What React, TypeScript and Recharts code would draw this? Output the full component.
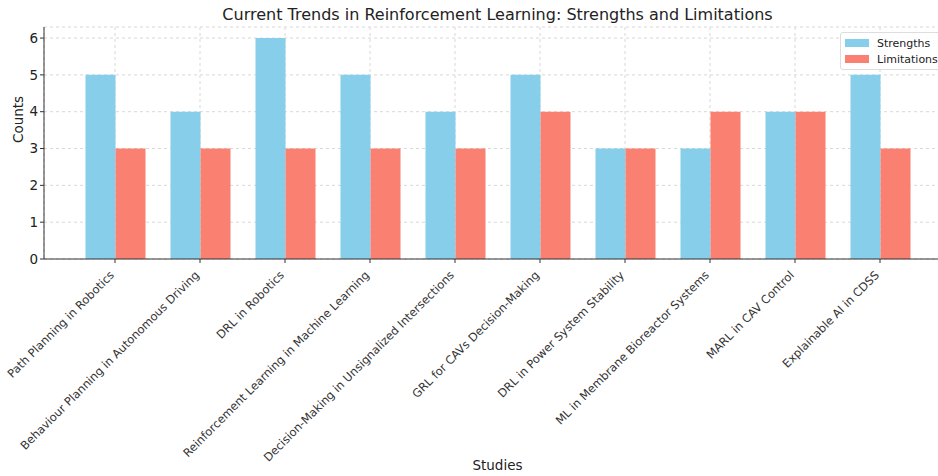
import { Bar, BarChart, CartesianGrid, XAxis, YAxis } from "recharts";

const studies = [
  "Path Planning in Robotics",
  "Behaviour Planning in Autonomous Driving",
  "DRL in Robotics",
  "Reinforcement Learning in Machine Learning",
  "Decision-Making in Unsignalized Intersections",
  "GRL for CAVs Decision-Making",
  "DRL in Power System Stability",
  "ML in Membrane Bioreactor Systems",
  "MARL in CAV Control",
  "Explainable AI in CDSS",
];
const strengths = [5, 4, 6, 5, 4, 5, 3, 3, 4, 5];
const limitations = [3, 3, 3, 3, 3, 4, 3, 4, 4, 3];
const yTicks = [0, 1, 2, 3, 4, 5, 6];

const data = studies.map((study, i) => ({
  study,
  strengths: strengths[i],
  limitations: limitations[i],
}));

const FONT = "'DejaVu Sans', sans-serif";
const BLUE = "#87CEEB";
const RED = "#FA8072";

function RotatedTick({ x, y, payload }: any) {
  return (
    <g transform={`translate(${x - 3},${y + 8}) rotate(-45)`}>
      <text x={0} y={0} dy="0.35em" textAnchor="end" fontSize={11.5} fill="#333" fontFamily={FONT}>
        {payload.value}
      </text>
    </g>
  );
}

function LegendBox() {
  const row = (color: string, label: string) => (
    <div style={{ display: "flex", alignItems: "center", height: 16 }}>
      <span style={{ width: 24, height: 8, background: color, marginRight: 8 }} />
      <span>{label}</span>
    </div>
  );
  return (
    <div
      style={{
        position: "absolute",
        left: 840,
        top: 32,
        width: 110,
        border: "1px solid #ddd",
        borderRadius: 3,
        background: "rgba(255,255,255,0.85)",
        padding: "2px 0 2px 4px",
        fontSize: 11,
        color: "#222",
      }}
    >
      {row(BLUE, "Strengths")}
      {row(RED, "Limitations")}
    </div>
  );
}

export default function App() {
  return (
    <div
      style={{
        position: "absolute",
        left: 0,
        top: 0,
        width: 938,
        height: 476,
        overflow: "hidden",
        background: "#fff",
        fontFamily: FONT,
      }}
    >
      <div
        style={{
          position: "absolute",
          top: 5,
          left: 0,
          width: 995,
          textAlign: "center",
          fontSize: 16,
          color: "#222",
        }}
      >
        Current Trends in Reinforcement Learning: Strengths and Limitations
      </div>
      <BarChart
        width={951}
        height={476}
        data={data}
        margin={{ top: 27, right: 0, bottom: 0, left: 0 }}
        barGap={0}
        barSize={30}
      >
        <CartesianGrid stroke="#d8d8d8" strokeDasharray="3 3" />
        <XAxis
          dataKey="study"
          interval={0}
          height={217}
          padding={{ left: 28.5, right: 28.5 }}
          tick={<RotatedTick />}
          tickSize={4}
          stroke="#333"
          label={{ value: "Studies", position: "insideBottom", offset: 6, fontSize: 13.5, fill: "#222", fontFamily: FONT }}
        />
        <YAxis
          width={44}
          domain={[0, 6.3]}
          ticks={yTicks}
          tickSize={4}
          stroke="#333"
          tick={{ fontSize: 13.5, fill: "#222", fontFamily: FONT }}
          label={{ value: "Counts", angle: -90, position: "insideLeft", offset: 18, fontSize: 13.5, fill: "#222", fontFamily: FONT }}
        />
        <Bar dataKey="strengths" name="Strengths" fill={BLUE} isAnimationActive={false} />
        <Bar dataKey="limitations" name="Limitations" fill={RED} isAnimationActive={false} />
      </BarChart>
      <LegendBox />
    </div>
  );
}
